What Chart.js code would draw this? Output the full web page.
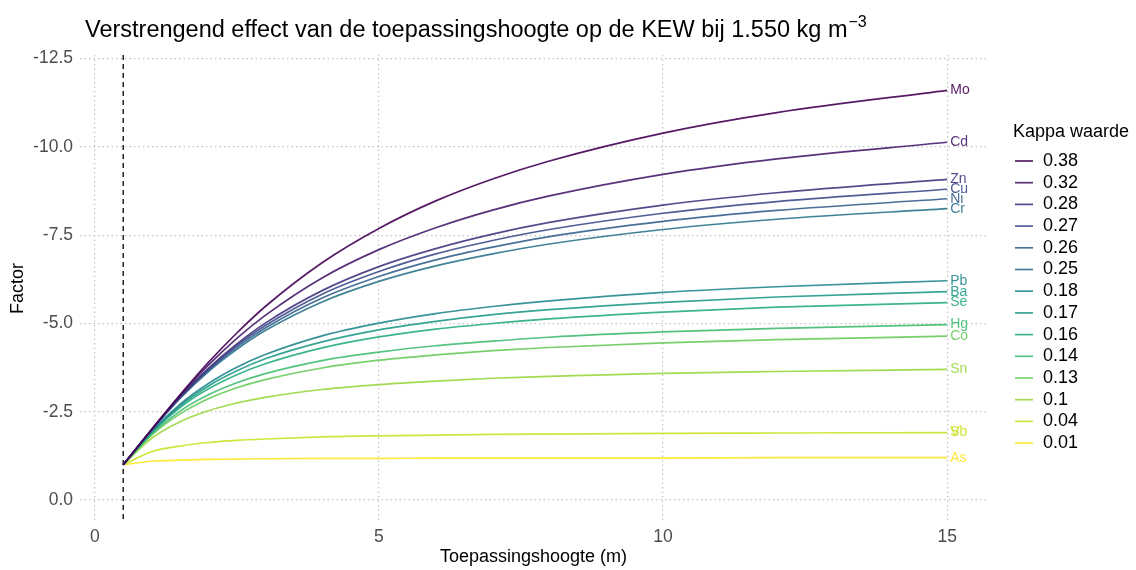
<!DOCTYPE html>
<html>
<head>
<meta charset="utf-8">
<script src="https://cdn.jsdelivr.net/npm/chart.js@4.4.1/dist/chart.umd.min.js"></script>
<style>
  html, body { margin: 0; padding: 0; background: #ffffff; }
  #wrap { width: 1136px; height: 570px; position: relative; }
</style>
</head>
<body>
<div id="wrap"><canvas id="chart" width="1136" height="570"></canvas></div>
<script>
// Application height (m) at which the factor is evaluated
const heights = [0.5, 1, 1.5, 2, 2.5, 3, 4, 5, 6, 7, 8, 10, 12, 15];

// Kappa value per curve (legend order) and the elements sharing that kappa
const kappaLabels = ['0.38', '0.32', '0.28', '0.27', '0.26', '0.25', '0.18', '0.17', '0.16', '0.14', '0.13', '0.1', '0.04', '0.01'];
const elementLabels = [['Mo'], ['Cd'], ['Zn'], ['Cu'], ['Ni'], ['Cr'], ['Pb'], ['Ba'], ['Se'], ['Hg'], ['Co'], ['Sn'], ['V', 'Sb'], ['As']];

// Factor per kappa value, one entry per height
const factorK038 = [-1, -2.00, -2.98, -3.90, -4.73, -5.48, -6.72, -7.69, -8.47, -9.09, -9.60, -10.39, -10.97, -11.60];
const factorK032 = [-1, -2.00, -2.95, -3.82, -4.58, -5.23, -6.29, -7.09, -7.71, -8.21, -8.61, -9.22, -9.66, -10.13];
const factorK028 = [-1, -1.99, -2.92, -3.73, -4.42, -5.01, -5.93, -6.61, -7.12, -7.53, -7.86, -8.35, -8.70, -9.08];
const factorK027 = [-1, -1.99, -2.91, -3.70, -4.38, -4.94, -5.83, -6.47, -6.97, -7.35, -7.66, -8.12, -8.45, -8.80];
const factorK026 = [-1, -1.99, -2.89, -3.67, -4.33, -4.87, -5.72, -6.33, -6.80, -7.16, -7.46, -7.89, -8.20, -8.53];
const factorK025 = [-1, -1.98, -2.88, -3.64, -4.27, -4.80, -5.61, -6.19, -6.63, -6.97, -7.25, -7.66, -7.95, -8.25];
const factorK018 = [-1, -1.94, -2.71, -3.30, -3.76, -4.12, -4.65, -5.01, -5.28, -5.48, -5.64, -5.88, -6.04, -6.21];
const factorK017 = [-1, -1.93, -2.67, -3.23, -3.66, -4.00, -4.48, -4.82, -5.06, -5.25, -5.39, -5.60, -5.75, -5.90];
const factorK016 = [-1, -1.91, -2.62, -3.15, -3.55, -3.86, -4.31, -4.62, -4.84, -5.00, -5.13, -5.32, -5.46, -5.59];
const factorK014 = [-1, -1.87, -2.52, -2.98, -3.32, -3.58, -3.95, -4.19, -4.37, -4.50, -4.61, -4.76, -4.86, -4.97];
const factorK013 = [-1, -1.84, -2.44, -2.87, -3.18, -3.41, -3.74, -3.96, -4.11, -4.23, -4.32, -4.45, -4.54, -4.64];
const factorK010 = [-1, -1.75, -2.22, -2.53, -2.75, -2.91, -3.13, -3.27, -3.37, -3.45, -3.50, -3.59, -3.64, -3.70];
const factorK004 = [-1, -1.37, -1.53, -1.63, -1.69, -1.73, -1.79, -1.82, -1.84, -1.86, -1.87, -1.89, -1.90, -1.91];
const factorK001 = [-1, -1.10, -1.13, -1.15, -1.16, -1.17, -1.18, -1.18, -1.19, -1.19, -1.19, -1.19, -1.20, -1.20];

const seriesValues = [factorK038, factorK032, factorK028, factorK027, factorK026, factorK025, factorK018,
                      factorK017, factorK016, factorK014, factorK013, factorK010, factorK004, factorK001];

// Axis ticks and the reference height marked with a dashed line
const xTicks = [0, 5, 10, 15];
const yTicks = [-12.5, -10, -7.5, -5, -2.5, 0];
const referenceHeight = 0.5;

const FONT = "'Liberation Sans', Arial, Helvetica, sans-serif";

// Viridis colour ramp
const viridisStops = ['#440154', '#482475', '#414487', '#355F8D', '#2A788E', '#21918C',
                      '#22A884', '#44BF70', '#7AD151', '#BDDF26', '#FDE725'];
function hexToRgb(h) {
  return [parseInt(h.slice(1, 3), 16), parseInt(h.slice(3, 5), 16), parseInt(h.slice(5, 7), 16)];
}
function viridis(t, alpha) {
  const p = t * (viridisStops.length - 1);
  const i = Math.min(viridisStops.length - 2, Math.floor(p));
  const f = p - i;
  const a = hexToRgb(viridisStops[i]);
  const b = hexToRgb(viridisStops[i + 1]);
  const c = a.map((v, k) => Math.round(v + (b[k] - v) * f));
  return 'rgba(' + c.join(',') + ',' + alpha + ')';
}
const colors = kappaLabels.map((_, i) => viridis(i / (kappaLabels.length - 1), 0.9));

const datasets = seriesValues.map((vals, i) => ({
  label: kappaLabels[i],
  data: heights.map((h, j) => ({ x: h, y: vals[j] })),
  borderColor: colors[i],
  backgroundColor: colors[i],
  borderWidth: 1.7,
  pointRadius: 0,
  fill: false,
  cubicInterpolationMode: 'monotone'
}));

// Title, axis titles, reference line, end labels and legend
const decorations = {
  id: 'decorations',
  beforeDatasetsDraw(chart) {
    const { ctx, chartArea, scales } = chart;
    const x = scales.x.getPixelForValue(referenceHeight);
    ctx.save();
    ctx.strokeStyle = '#000000';
    ctx.lineWidth = 1.3;
    ctx.setLineDash([5, 4]);
    ctx.beginPath();
    ctx.moveTo(x, chartArea.top);
    ctx.lineTo(x, chartArea.bottom);
    ctx.stroke();
    ctx.restore();
  },
  afterDraw(chart) {
    const { ctx, chartArea } = chart;
    ctx.save();

    // Title with superscript
    ctx.fillStyle = '#000000';
    ctx.textBaseline = 'alphabetic';
    ctx.textAlign = 'left';
    ctx.font = '23.5px ' + FONT;
    const main = 'Verstrengend effect van de toepassingshoogte op de KEW bij 1.550 kg m';
    ctx.fillText(main, 85, 37);
    const w = ctx.measureText(main).width;
    ctx.font = '16px ' + FONT;
    ctx.fillText('\u22123', 85 + w + 1, 27);

    // Axis titles
    ctx.font = '18px ' + FONT;
    ctx.textAlign = 'center';
    ctx.textBaseline = 'middle';
    ctx.fillText('Toepassingshoogte (m)', (chartArea.left + chartArea.right) / 2, 557);
    ctx.save();
    ctx.translate(18, (chartArea.top + chartArea.bottom) / 2);
    ctx.rotate(-Math.PI / 2);
    ctx.fillText('Factor', 0, 0);
    ctx.restore();

    // Element names at the end of each curve
    ctx.font = '14px ' + FONT;
    ctx.textAlign = 'left';
    ctx.textBaseline = 'middle';
    chart.data.datasets.forEach((ds, i) => {
      const pts = chart.getDatasetMeta(i).data;
      const last = pts[pts.length - 1];
      ctx.fillStyle = colors[i];
      elementLabels[i].forEach(name => ctx.fillText(name, last.x + 3, last.y));
    });

    // Legend
    const lx = 1013, ly = 132, rowH = 21.7, firstY = 161;
    ctx.fillStyle = '#000000';
    ctx.font = '18px ' + FONT;
    ctx.fillText('Kappa waarde', lx, ly);
    chart.data.datasets.forEach((ds, i) => {
      const y = firstY + i * rowH;
      ctx.strokeStyle = colors[i];
      ctx.lineWidth = 1.7;
      ctx.beginPath();
      ctx.moveTo(lx + 2, y);
      ctx.lineTo(lx + 20, y);
      ctx.stroke();
      ctx.fillStyle = '#000000';
      ctx.fillText(ds.label, lx + 30, y);
    });
    ctx.restore();
  }
};

new Chart(document.getElementById('chart'), {
  type: 'line',
  data: { datasets },
  plugins: [decorations],
  options: {
    responsive: false,
    animation: false,
    devicePixelRatio: 1,
    layout: { padding: { left: 0, right: 149, top: 55, bottom: 0 } },
    plugins: {
      legend: { display: false },
      title: { display: false },
      tooltip: { enabled: false }
    },
    scales: {
      x: {
        type: 'linear',
        min: -0.26,
        max: 15.7,
        afterBuildTicks(scale) { scale.ticks = xTicks.map(v => ({ value: v })); },
        afterFit(scale) { scale.height = 48; },
        grid: { color: '#c4c4c4', lineWidth: 1.2, drawTicks: false },
        border: { display: false, dash: [1.5, 3] },
        ticks: {
          color: '#4d4d4d',
          font: { family: FONT, size: 17.5 },
          padding: 5,
          autoSkip: false,
          maxRotation: 0,
          callback: v => String(v)
        }
      },
      y: {
        type: 'linear',
        reverse: true,
        min: -12.6,
        max: 0.62,
        afterBuildTicks(scale) { scale.ticks = yTicks.map(v => ({ value: v })); },
        afterFit(scale) { scale.width = 80; },
        grid: { color: '#c4c4c4', lineWidth: 1.2, drawTicks: false },
        border: { display: false, dash: [1.5, 3] },
        ticks: {
          color: '#4d4d4d',
          font: { family: FONT, size: 17.5 },
          padding: 7,
          autoSkip: false,
          callback: v => Number(v).toFixed(1)
        }
      }
    }
  }
});
</script>
</body>
</html>
